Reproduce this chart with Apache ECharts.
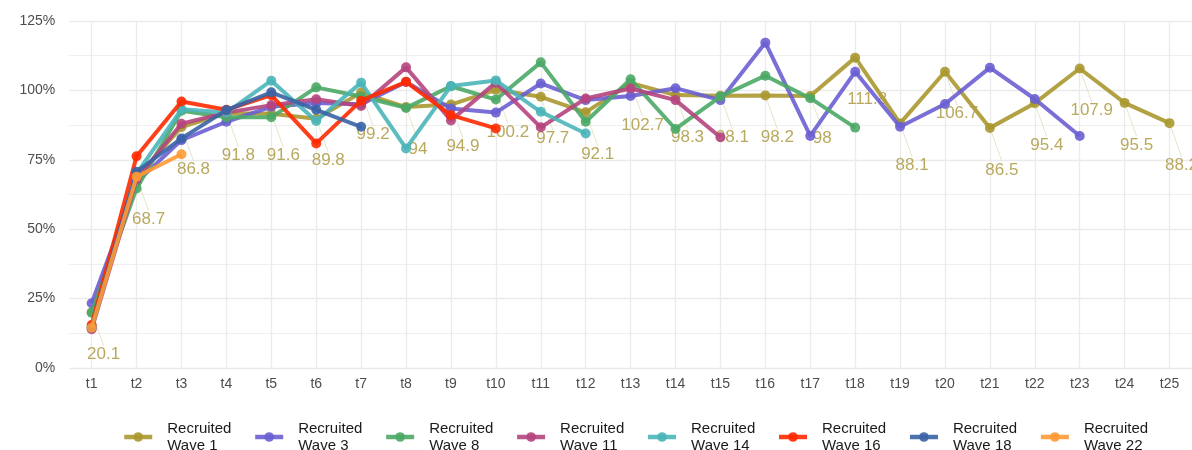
<!DOCTYPE html>
<html>
<head>
<meta charset="utf-8">
<script src="https://cdn.jsdelivr.net/npm/echarts@6/dist/echarts.min.js"></script>
<style>
html,body{margin:0;padding:0;background:#fff;}
#chart{width:1192px;height:450px;}
</style>
</head>
<body>
<div id="chart"></div>
<script>
const categories = ['t1','t2','t3','t4','t5','t6','t7','t8','t9','t10','t11','t12','t13','t14','t15','t16','t17','t18','t19','t20','t21','t22','t23','t24','t25'];
const yTicks = [0, 25, 50, 75, 100, 125];
const seriesNames = ['Recruited\nWave 1','Recruited\nWave 3','Recruited\nWave 8','Recruited\nWave 11','Recruited\nWave 14','Recruited\nWave 16','Recruited\nWave 18','Recruited\nWave 22'];
const wave1 = [20.1,68.7,86.8,91.8,91.6,89.8,99.2,94,94.9,100.2,97.7,92.1,102.7,98.3,98.1,98.2,98,111.8,88.1,106.7,86.5,95.4,107.9,95.5,88.2];
const wave3 = [23.3,67.0,82.1,88.7,94.1,95.5,95.0,103.0,93.5,92.0,102.5,96.5,98.0,100.8,96.5,117.2,83.6,106.7,86.9,95.1,108.2,96.9,83.6];
const wave8 = [19.9,64.7,92.7,90.3,90.3,101.1,97.8,93.7,101.5,96.7,110.1,88.7,104.0,86.1,97.8,105.3,97.2,86.6];
const wave11 = [14.0,68.0,88.0,92.0,94.7,96.8,94.4,108.3,89.2,102.8,86.7,97.1,100.7,96.5,83.1];
const wave14 = [15.0,70.0,93.2,92.0,103.5,89.0,102.8,79.1,101.6,103.6,92.3,84.5];
const wave16 = [15.5,76.3,96.0,93.0,98.3,80.9,96.3,103.1,91.1,86.3];
const wave18 = [14.5,70.7,82.7,92.9,99.3,93.0,86.9];
const wave22 = [14.5,68.9,77.0];

const allWaves = [wave1, wave3, wave8, wave11, wave14, wave16, wave18, wave22];
const colors = ['#AA9830','#6A5FD1','#4BA866','#B5457E','#4AB5B9','#FF2A00','#3A64A6','#FF9A35'];

const series = allWaves.map(function (d, i) {
  const s = {
    name: seriesNames[i],
    type: 'line',
    data: d,
    symbol: 'circle',
    symbolSize: 10,
    lineStyle: { width: 4, color: colors[i], opacity: 0.9 },
    itemStyle: { color: colors[i], opacity: 0.9 },
    z: 2 + i
  };
  if (i === 0) {
    s.label = {
      show: true,
      position: 'inside',
      formatter: function (p) { return String(p.value); },
      color: '#B0A04C',
      fontSize: 17,
      fontFamily: 'Liberation Sans, Arial, sans-serif'
    };
    s.labelLine = { show: true, lineStyle: { color: '#E8E3C9', width: 1 } };
    s.labelLayout = function (p) {
      return { dx: 12, dy: 42 };
    };
  }
  return s;
});

const chart = echarts.init(document.getElementById('chart'), null, { renderer: 'canvas' });
chart.setOption({
  animation: false,
  color: colors,
  grid: { left: 69.2, top: 21, width: 1125, height: 347, containLabel: false },
  xAxis: {
    type: 'category',
    data: categories,
    boundaryGap: true,
    axisLine: { show: false },
    axisTick: { show: false, alignWithLabel: true },
    axisLabel: { color: '#4D4D4D', fontSize: 14, margin: 9, fontFamily: 'Liberation Sans, Arial, sans-serif' },
    splitLine: { show: true, alignWithLabel: true, lineStyle: { color: '#EBEBEB', width: 1.3 } }
  },
  yAxis: {
    type: 'value',
    min: yTicks[0],
    max: yTicks[yTicks.length - 1],
    interval: 25,
    axisLine: { show: false },
    axisTick: { show: false },
    axisLabel: { color: '#4D4D4D', fontSize: 14, margin: 14, formatter: function (v) { return v + '%'; }, fontFamily: 'Liberation Sans, Arial, sans-serif' },
    splitLine: { show: true, lineStyle: { color: '#EBEBEB', width: 1.3 } },
    minorTick: { show: false, splitNumber: 2 },
    minorSplitLine: { show: true, lineStyle: { color: '#EFEFEF', width: 1 } }
  },
  legend: {
    left: 117,
    top: 415,
    orient: 'horizontal',
    itemWidth: 28,
    itemHeight: 12,
    itemGap: 21.5,
    lineStyle: { width: 4.5 },
    textStyle: { color: '#1A1A1A', fontSize: 15, lineHeight: 17, fontFamily: 'Liberation Sans, Arial, sans-serif', padding: [0, 0, 0, 10] },
    data: seriesNames
  },
  series: series
});
</script>
</body>
</html>
